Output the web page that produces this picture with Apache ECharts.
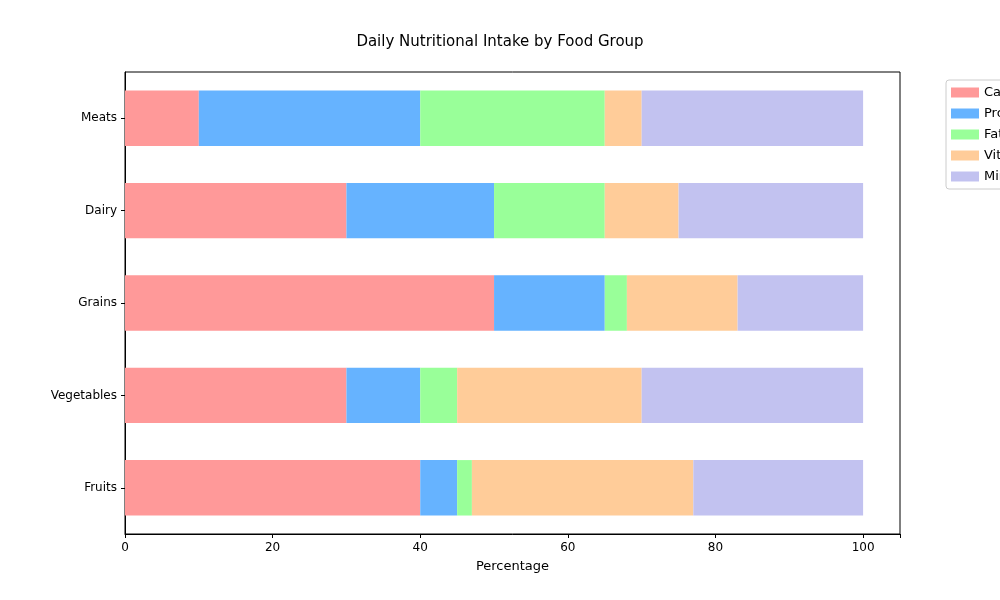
<!DOCTYPE html>
<html><head><meta charset="utf-8">
<script src="https://cdn.jsdelivr.net/npm/echarts@6/dist/echarts.min.js"></script>
<style>html,body{margin:0;padding:0;background:#fff}#c{width:1000px;height:600px}</style>
</head><body><div id="c"></div>
<script>
const categories = ["Fruits","Vegetables","Grains","Dairy","Meats"];
const carbohydrates = [40,30,50,30,10];
const proteins = [5,10,15,20,30];
const fats = [2,5,3,15,25];
const vitamins = [30,25,15,10,5];
const minerals = [23,30,17,25,30];
const seriesNames = ["Carbohydrates","Proteins","Fats","Vitamins","Minerals"];
const colors = ["#ff9999","#66b3ff","#99ff99","#ffcc99","#c2c2f0"];
const values = [carbohydrates,proteins,fats,vitamins,minerals];
const chart = echarts.init(document.getElementById('c'));
chart.setOption({
  animation:false,
  title:{text:"Daily Nutritional Intake by Food Group",left:'center',top:30,textStyle:{fontFamily:'DejaVu Sans',fontSize:15,fontWeight:'normal',color:'#000'}},
  legend:{orient:'vertical',left:946,top:80,itemWidth:28,itemHeight:10,itemGap:8,padding:[6,5,6,5],borderColor:'#ccc',borderWidth:1,borderRadius:3,
    textStyle:{fontFamily:'DejaVu Sans',fontSize:13,color:'#000'},icon:'rect',data:seriesNames},
  grid:{left:125,right:100,top:72,bottom:66,show:true,borderColor:'#000',borderWidth:1,backgroundColor:'transparent'},
  xAxis:{type:'value',min:0,max:105,interval:20,name:'Percentage',nameLocation:'middle',nameGap:26,
    nameTextStyle:{fontFamily:'DejaVu Sans',fontSize:13,color:'#000'},
    axisLine:{show:true,lineStyle:{color:'#000'}},axisTick:{show:true,length:4,lineStyle:{color:'#000'}},splitLine:{show:false},
    axisLabel:{fontFamily:'DejaVu Sans',fontSize:12,color:'#000',formatter:v=>v%20===0&&v<=100?v:''}},
  yAxis:{type:'category',data:categories,axisLine:{show:true,lineStyle:{color:'#000'}},
    axisTick:{show:true,alignWithLabel:true,length:4,lineStyle:{color:'#000'}},
    axisLabel:{fontFamily:'DejaVu Sans',fontSize:12,color:'#000'}},
  series:values.map((d,i)=>({name:seriesNames[i],type:'bar',stack:'a',data:d,barWidth:'60%',itemStyle:{color:colors[i]}}))
});
</script></body></html>
